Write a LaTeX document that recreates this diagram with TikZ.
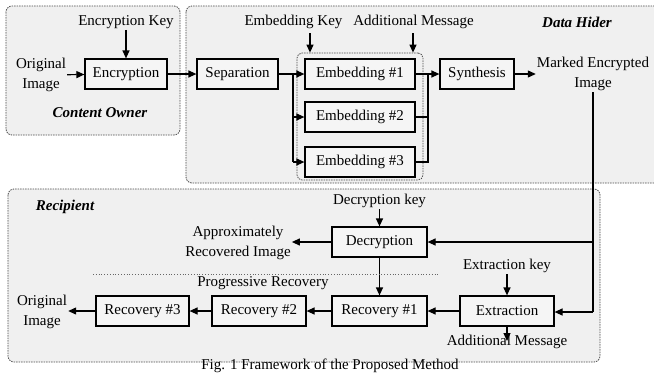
\documentclass[tikz,border=0pt]{standalone}
\usepackage{fontspec}
\setmainfont{Liberation Serif}
\usetikzlibrary{arrows.meta}
\begin{document}
\begin{tikzpicture}[x=1pt,y=-1pt,
  every node/.style={font=\fontsize{15}{17}\selectfont, inner sep=1pt},
  box/.style={draw=black, line width=1.2pt, fill=gray!8, minimum height=30pt, inner sep=0pt},
  region/.style={draw=black!70, line width=0.8pt, dash pattern=on 1.5pt off 1pt, rounded corners=6pt, fill=gray!12},
  grp/.style={draw=black!70, line width=0.8pt, dash pattern=on 1.5pt off 1pt, rounded corners=5pt},
  lbl/.style={align=center},
  role/.style={font=\fontsize{15}{17}\selectfont\bfseries\itshape},
  arr/.style={line width=1.2pt, -{Triangle[length=8pt,width=7pt]}},
  ln/.style={line width=1.2pt}]
\useasboundingbox (0,0) rectangle (654,378);
\fill[white] (0,0) rectangle (654,378);
% regions
\draw[region] (6,6) rectangle (180,135);
\draw[region] (186,6) rectangle (664,183);
\draw[region] (8,189) rectangle (600,362);
\node[role] (co) at (100,113) {Content Owner};
\node[role] (dh) at (577,22) {Data Hider};
\node[role] (rc) at (65,207) {Recipient};
% top row
\node[lbl] (orig) at (41,75) {Original\\[3pt]Image};
\node[box, minimum width=82pt] (enc) at (126,74) {Encryption};
\node[lbl] (enckey) at (126,22) {Encryption Key};
\node[box, minimum width=81pt] (sep) at (237.5,74) {Separation};
\node[grp, minimum width=126pt, minimum height=127pt] (grpb) at (360,116.5) {};
\node[box, minimum width=110pt] (emb1) at (360,74) {Embedding \#1};
\node[box, minimum width=110pt] (emb2) at (360,117) {Embedding \#2};
\node[box, minimum width=110pt] (emb3) at (360,162) {Embedding \#3};
\node[lbl] (embkey) at (293.5,22) {Embedding Key};
\node[lbl] (addmsg) at (413.5,22) {Additional Message};
\node[box, minimum width=74pt] (syn) at (477,74) {Synthesis};
\node[lbl] (marked) at (593,74) {Marked Encrypted\\[3pt]Image};
% bottom
\node[box, minimum width=95pt] (dec) at (379.5,242) {Decryption};
\node[lbl] (deckey) at (379.5,201) {Decryption key};
\node[lbl] (approx) at (238,243) {Approximately\\[3pt]Recovered Image};
\node[lbl] (prog) at (263,283) {Progressive Recovery};
\node[box, minimum width=95pt] (rec1) at (379.5,311) {Recovery \#1};
\node[box, minimum width=94pt] (ext) at (507,311) {Extraction};
\node[lbl] (extkey) at (507,266) {Extraction key};
\node[lbl] (addmsg2) at (507,342) {Additional Message};
\node[box, minimum width=94pt] (rec2) at (259,311) {Recovery \#2};
\node[box, minimum width=93pt] (rec3) at (142.5,311) {Recovery \#3};
\node[lbl] (orig2) at (42,312) {Original\\[3pt]Image};
\node (cap) at (330,366) {Fig. 1 Framework of the Proposed Method};
% connectors top
\draw[arr] (orig) -- (enc);
\draw[arr] (enckey) -- (enc);
\draw[arr] (enc) -- (sep);
\coordinate (j1) at (293,74);
\coordinate (j1b) at (293,162);
\draw[ln] (sep) -- (j1) -- (j1b);
\draw[arr] (j1) -- (emb1);
\draw[arr] (j1 |- emb2) -- (emb2);
\draw[arr] (j1b) -- (emb3);
\coordinate (ek) at (310,33);
\draw[arr] (ek) -- (ek |- grpb.north);
\coordinate (am) at (413,33);
\draw[arr] (am) -- (am |- grpb.north);
\coordinate (j2) at (428,74);
\coordinate (j2b) at (428,162);
\draw[ln] (emb1) -- (j2);
\draw[ln] (emb2) -- (j2 |- emb2);
\draw[ln] (emb3) -- (j2b) -- (j2);
\draw[arr] (j2) -- (syn);
\draw[arr] (syn) -- (marked.west |- syn);
% connectors bottom
\coordinate (k) at (593,312);
\draw[ln] (marked.south) -- (k);
\draw[arr] (marked.south |- dec) -- (dec);
\draw[arr] (k) -- (ext.east |- k);
\draw[arr] (deckey) -- (dec);
\draw[arr] (dec) -- (approx.east |- dec);
\draw[arr] (dec) -- (rec1);
\draw[arr] (extkey) -- (ext);
\draw[arr] (ext) -- (rec1);
\coordinate (am2) at (507,341);
\draw[arr] (ext) -- (am2);
\draw[arr] (rec1) -- (rec2);
\draw[arr] (rec2) -- (rec3);
\draw[arr] (rec3) -- (orig2.east |- rec3);
\draw[black!60, line width=0.8pt, dotted] (93,274) -- (440,274);
\end{tikzpicture}
\end{document}
